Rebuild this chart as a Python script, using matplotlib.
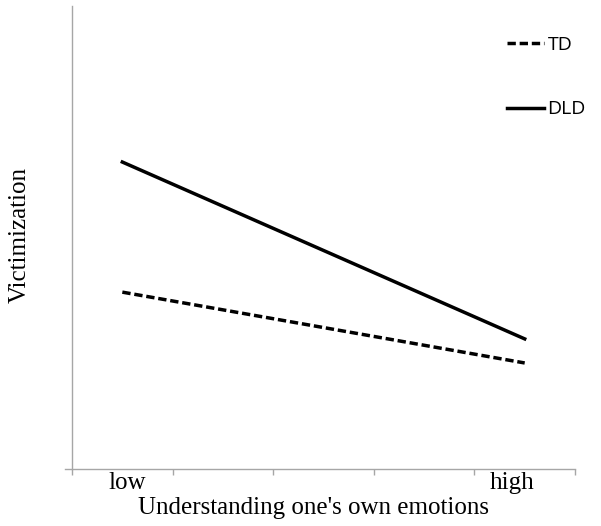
import matplotlib
matplotlib.use("Agg")
import matplotlib.pyplot as plt

# data (y on a 0..1 scale of the axis height)
levels = ["low", "high"]
x_pos = [0.5, 4.5]
td = [0.382, 0.229]
dld = [0.663, 0.281]
series_names = ["TD", "DLD"]

W, H = 601, 526
fig = plt.figure(figsize=(W / 100, H / 100), dpi=100)
ax = fig.add_axes([65 / W, (H - 469) / H, (575 - 65) / W, (469 - 6) / H])

ax.plot(x_pos, td, color="black", lw=2.5, dashes=(2.4, 1.1), label=series_names[0])
ax.plot(x_pos, dld, color="black", lw=2.5, label=series_names[1])

ax.set_xlim(-0.07, 5.0)
ax.set_ylim(0, 1)

grey = "#a6a6a6"
for s in ["top", "right"]:
    ax.spines[s].set_visible(False)
ax.spines["left"].set_position(("data", 0))
ax.spines["left"].set_color(grey)
ax.spines["bottom"].set_color(grey)
ax.spines["left"].set_linewidth(1.0)
ax.spines["bottom"].set_linewidth(1.0)

ax.set_yticks([])
ax.set_xticks(range(6))
ax.set_xticklabels([])
ax.tick_params(axis="x", which="major", direction="out", length=4, width=1.0, color=grey)
ax.set_xticks([0.55, 4.37], minor=True)
ax.set_xticklabels(levels, minor=True, fontfamily="Liberation Serif", fontsize=18)
ax.tick_params(axis="x", which="minor", length=0, pad=2.5)

fig.text(314 / W, 1 - 508 / H, "Understanding one's own emotions", ha="center", va="center",
         fontfamily="Liberation Serif", fontsize=18)
fig.text(20 / W, 1 - 235 / H, "Victimization", ha="center", va="center", rotation=90,
         fontfamily="Liberation Serif", fontsize=18)

leg = ax.legend(loc="upper left", bbox_to_anchor=(497 / W, 1 - 26 / H), bbox_transform=fig.transFigure,
                frameon=False, handlelength=1.9, handletextpad=0.2, labelspacing=2.4, borderpad=0,
                prop={"family": "Open Sans", "size": 14})

fig.savefig("out.png", dpi=100)
